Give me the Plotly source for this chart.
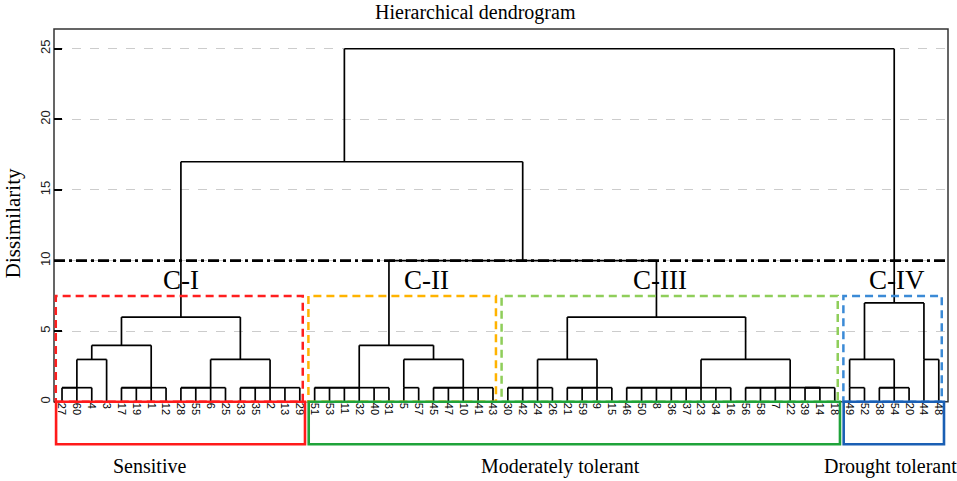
import plotly.graph_objects as go

# ---------------- data ----------------
leaf_order = [27, 60, 4, 3, 17, 19, 1, 12, 28, 55, 6, 25, 33, 35, 2, 13, 29,
              51, 53, 11, 32, 40, 31, 5, 57, 45, 47, 10, 41, 43,
              30, 42, 24, 26, 21, 59, 9, 15, 46, 50, 8, 36, 37, 23, 34, 16,
              56, 58, 7, 22, 39, 14, 18,
              49, 52, 38, 54, 20, 44, 48]


def chain(h, leaves):
    node = leaves[0]
    for lf in leaves[1:]:
        node = [h, node, lf]
    return node


# tree topology: [height, left, right]
c1_tree = [6,
           [4, [3, chain(1, [27, 60, 4]), 3], chain(1, [17, 19, 1, 12])],
           [3, chain(1, [28, 55, 6, 25]),
            [1, chain(1, [33, 35, 2]), chain(1, [13, 29])]]]
c2_tree = [4,
           [1, chain(1, [51, 53, 11, 32]), chain(1, [40, 31])],
           [3, chain(1, [5, 57]),
            [1, chain(1, [45, 47, 10]), chain(1, [41, 43])]]]
c3_tree = [6,
           [3, chain(1, [30, 42, 24, 26]), chain(1, [21, 59, 9, 15])],
           [3, [1, chain(1, [46, 50, 8, 36, 37, 23]), chain(1, [34, 16])],
            [1, chain(1, [56, 58, 7, 22]), chain(1, [39, 14, 18])]]]
c4_tree = [7,
           [3, chain(1, [49, 52]), chain(1, [38, 54, 20])],
           [3, 44, 48]]
root_tree = [25, [17, c1_tree, [10, c2_tree, c3_tree]], c4_tree]

cluster_names = ["C-I", "C-II", "C-III", "C-IV"]
cluster_trees = [c1_tree, c2_tree, c3_tree, c4_tree]
cut_height = 10
group_names = ["Sensitive", "Moderately tolerant", "Drought tolerant"]
group_clusters = [[0], [1, 2], [3]]
y_ticks = [0, 5, 10, 15, 20, 25]

# ---------------- layout helpers ----------------
pos = {lab: i for i, lab in enumerate(leaf_order)}
seg_x, seg_y = [], []


def leaves_of(node):
    if not isinstance(node, list):
        return [node]
    out = []
    for ch in node[1:]:
        out += leaves_of(ch)
    return out


def draw(node, record=True):
    if not isinstance(node, list):
        return pos[node], 0.0
    h = node[0]
    res = [draw(ch, record) for ch in node[1:]]
    xs = [r[0] for r in res]
    if record:
        for (cx, ch_h) in res:
            seg_x.extend([cx, cx, None])
            seg_y.extend([ch_h, h, None])
        seg_x.extend([min(xs), max(xs), None])
        seg_y.extend([h, h, None])
    anchor = int(sum(xs) // len(xs))
    return anchor, h


draw(root_tree)
cluster_anchor = [draw(t, record=False)[0] for t in cluster_trees]
cluster_range = [(min(pos[l] for l in leaves_of(t)), max(pos[l] for l in leaves_of(t)))
                 for t in cluster_trees]

X_RANGE = [-0.54, 59.62]
Y_RANGE = [-3.2, 26.4]
SERIF = "Liberation Serif, Times New Roman, serif"
SANS = "Liberation Sans, Arial, sans-serif"

fig = go.Figure()
fig.add_trace(go.Scatter(x=seg_x, y=seg_y, mode="lines",
                         line=dict(color="black", width=1.7),
                         hoverinfo="skip", showlegend=False))

shapes = []
# frame
yfrac0 = (0 - Y_RANGE[0]) / (Y_RANGE[1] - Y_RANGE[0])
shapes.append(dict(type="rect", xref="x domain", yref="y domain",
                   x0=0, x1=1, y0=yfrac0, y1=1,
                   line=dict(color="#333333", width=1.5), layer="below"))
# cut line
shapes.append(dict(type="line", xref="x domain", yref="y", x0=0, x1=1,
                   y0=cut_height, y1=cut_height,
                   line=dict(color="black", width=2.6, dash="11px,4px,3px,4px")))

dash_colors = ["#ff1f1f", "#ffb300", "#8fce5a", "#3b8ad6"]
for k, (lo, hi) in enumerate(cluster_range):
    shapes.append(dict(type="rect", xref="x", yref="y",
                       x0=lo - 0.42, x1=hi + 0.2, y0=0, y1=7.5,
                       line=dict(color=dash_colors[k], width=2.5, dash="8px,5px")))

solid_colors = ["#ff1a1a", "#1fa33a", "#1a5fb4"]
for g, cl in enumerate(group_clusters):
    lo = min(cluster_range[c][0] for c in cl)
    hi = max(cluster_range[c][1] for c in cl)
    shapes.append(dict(type="rect", xref="x", yref="y",
                       x0=lo - 0.4, x1=hi + 0.35, y0=-3, y1=0,
                       line=dict(color=solid_colors[g], width=2.6)))

annotations = []
label_xshift = [0, 38, 4, 3]
for k, name in enumerate(cluster_names):
    annotations.append(dict(x=cluster_anchor[k], y=8.6, xref="x", yref="y",
                            text=name, showarrow=False, xshift=label_xshift[k],
                            font=dict(family=SERIF, size=27, color="black"),
                            xanchor="center", yanchor="middle"))

group_label_x = [0.107, 0.566, 0.936]
for g, name in enumerate(group_names):
    annotations.append(dict(x=group_label_x[g], y=-0.046, xref="paper", yref="paper",
                            text=name, showarrow=False,
                            font=dict(family=SERIF, size=20, color="black"),
                            xanchor="center", yanchor="middle"))

annotations.append(dict(x=0.472, y=1.04, xref="paper", yref="paper",
                        text="Hierarchical dendrogram", showarrow=False,
                        font=dict(family=SERIF, size=20, color="black"),
                        xanchor="center", yanchor="middle"))
annotations.append(dict(x=-0.045, y=0.535, xref="paper", yref="paper",
                        text="Dissimilarity", showarrow=False, textangle=-90,
                        font=dict(family=SERIF, size=21, color="black"),
                        xanchor="center", yanchor="middle"))

fig.update_layout(
    width=957, height=481,
    margin=dict(l=54, r=9, t=29, b=34, autoexpand=False),
    paper_bgcolor="white", plot_bgcolor="white",
    shapes=shapes, annotations=annotations,
    xaxis=dict(range=X_RANGE, tickmode="array", tickvals=list(range(len(leaf_order))),
               ticktext=[str(v) for v in leaf_order], tickangle=90,
               tickfont=dict(family=SANS, size=11, color="black"),
               showgrid=False, zeroline=False, showline=False, ticks="",
               anchor="free", position=yfrac0, automargin=False),
    yaxis=dict(range=Y_RANGE, tickmode="array", tickvals=y_ticks,
               ticktext=[str(v) for v in y_ticks], tickangle=-90,
               tickfont=dict(family=SANS, size=13, color="#222222"),
               ticks="inside", ticklen=8, tickwidth=1.5, tickcolor="black",
               showgrid=True, gridcolor="#cccccc", griddash="dash", gridwidth=1,
               zeroline=False, showline=False, automargin=False),
)

fig.write_html("out.html", config={"displayModeBar": False},
               post_script="document.body.style.margin='0';document.body.style.overflow='hidden';")
